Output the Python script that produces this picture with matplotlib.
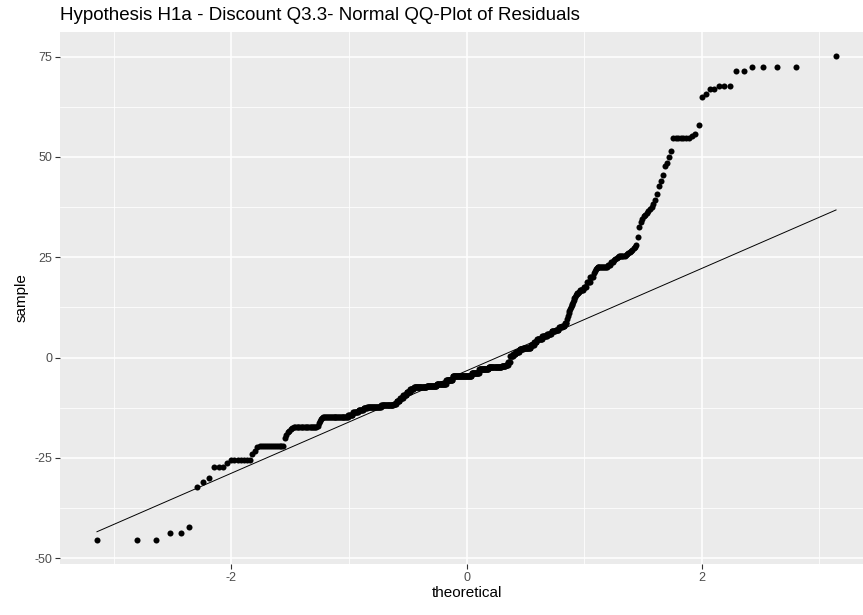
import matplotlib
matplotlib.use("Agg")
import matplotlib.pyplot as plt
import numpy as np
from statistics import NormalDist

# sorted residuals, stored as (level, how many points sit on it)
sample_levels = [
    -45.4, -43.6, -42.3, -32.3, -30.9, -30.1, -27.3, -26.3, -25.5, -24.0,
    -23.2, -22.3, -22.0, -20.0, -19.2, -18.6, -18.2, -17.9, -17.6, -17.4,
    -17.0, -16.4, -15.9, -15.4, -15.1, -14.9, -14.8, -14.2, -13.6, -13.0,
    -12.5, -12.2, -11.9, -11.5, -10.8, -10.0, -9.3, -8.5, -7.8, -7.4,
    -7.1, -6.6, -5.6, -4.5, -3.8, -2.8, -2.3, -2.0, -1.8, -1.0,
    0.4, 0.9, 1.5, 2.1, 2.5, 3.2, 4.0, 4.6, 5.3, 5.9,
    6.6, 7.0, 7.5, 7.9, 8.5,
    9.5, 10.3, 11.0, 11.5, 12.0, 12.5, 13.0, 13.4, 13.8, 14.3,
    14.8, 15.2, 15.5, 15.8, 16.0, 16.2, 16.4,
    16.8, 17.7, 18.8, 20.0, 21.0, 21.5, 22.0, 22.3, 22.6,
    23.1, 23.7, 24.2, 24.5, 24.8, 25.0, 25.3,
    25.6, 25.9, 26.1, 26.3, 26.6, 26.9, 27.2, 27.5,
    28.0, 30.0, 32.5, 33.8, 34.5, 35.2, 35.6, 36.1, 36.5, 37.0,
    37.4, 38.3, 39.2, 40.8, 42.8, 44.0, 45.4, 47.8, 48.6, 50.0, 51.5,
    54.6, 54.8, 55.2, 55.8, 57.9, 65.0, 65.8, 66.8, 67.7, 71.5, 72.3, 75.1,
]
level_counts = [
    3, 2, 1, 1, 1, 1, 3, 1, 7, 1,
    1, 1, 13, 1, 1, 1, 1, 1, 1, 19,
    1, 1, 1, 1, 1, 1, 27, 6, 7, 7,
    5, 21, 20, 5, 6, 6, 6, 6, 7, 24,
    20, 18, 14, 38, 15, 20, 25, 8, 5, 4,
    5, 5, 7, 7, 13, 6, 5, 9, 8, 7,
    6, 5, 5, 4, 3,
    1, 1, 1, 1, 1, 1, 1, 1, 1, 1,
    1, 1, 1, 1, 1, 1, 1,
    5, 4, 4, 4, 1, 1, 1, 1, 11,
    3, 3, 1, 1, 1, 1, 6,
    1, 1, 1, 1, 1, 1, 1, 1,
    1, 1, 1, 1, 1, 1, 1, 1, 1, 1,
    1, 1, 1, 1, 1, 1, 1, 1, 1, 1, 1,
    6, 1, 1, 1, 1, 1, 1, 2, 3, 2, 4, 1,
]

title = "Hypothesis H1a - Discount Q3.3- Normal QQ-Plot of Residuals"

sample = np.repeat(sample_levels, level_counts)
n = len(sample)
nd = NormalDist()
# ppoints, as stat_qq does it
theoretical = np.array([nd.inv_cdf((i - 0.5) / n) for i in range(1, n + 1)])

# qq line through the quartiles
q1, q3 = np.quantile(sample, [0.25, 0.75])
z1, z3 = nd.inv_cdf(0.25), nd.inv_cdf(0.75)
slope = (q3 - q1) / (z3 - z1)
intercept = q1 - slope * z1

plt.rcParams['font.family'] = ['Liberation Sans', 'DejaVu Sans']
plt.rcParams['axes.unicode_minus'] = False

fig = plt.figure(figsize=(8.63, 6.15), dpi=100)
ax = fig.add_axes([60 / 863, 51 / 615, 813 / 863, 532 / 615])
ax.set_facecolor('#EBEBEB')
for s in ax.spines.values():
    s.set_visible(False)

ax.scatter(theoretical, sample, s=19, color='black', linewidths=0, zorder=3)
xl = np.array([theoretical[0], theoretical[-1]])
ax.plot(xl, intercept + slope * xl, color='black', linewidth=0.7, zorder=2)

xr = theoretical[-1] - theoretical[0]
yr = sample.max() - sample.min()
ax.set_xlim(theoretical[0] - 0.05 * xr, theoretical[-1] + 0.05 * xr)
ax.set_ylim(sample.min() - 0.05 * yr, sample.max() + 0.05 * yr)

ax.set_xticks([-2, 0, 2])
ax.set_xticks([-3, -1, 1, 3], minor=True)
ax.set_yticks([-50, -25, 0, 25, 50, 75])
ax.set_yticks([-37.5, -12.5, 12.5, 37.5, 62.5], minor=True)
ax.grid(which='major', color='white', linewidth=1.1)
ax.grid(which='minor', color='white', linewidth=0.55)
ax.set_axisbelow(True)
ax.tick_params(which='major', length=3.5, width=0.8, color='#333333',
               labelcolor='#4D4D4D', labelsize=9, pad=2)
ax.tick_params(which='minor', length=0)

ax.set_xlabel('theoretical', fontsize=11, labelpad=2)
ax.set_ylabel('sample', fontsize=11, labelpad=4)
fig.text(60 / 863, 1 - 20 / 615, title, fontsize=13.5, ha='left', va='baseline')

fig.savefig('out.png', dpi=100)
